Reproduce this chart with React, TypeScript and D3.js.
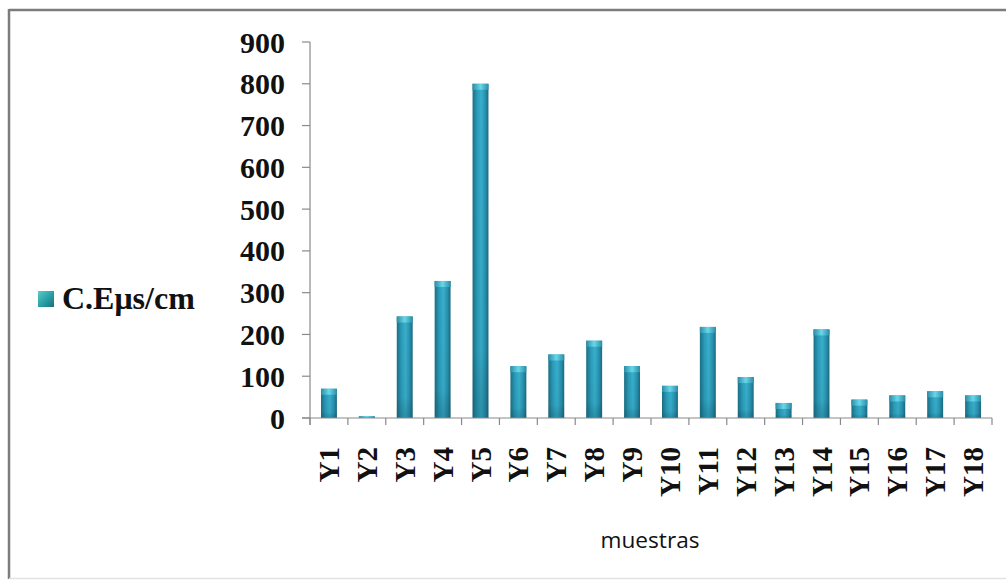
import React from "react";
import * as d3 from "d3";

const categories = ["Y1","Y2","Y3","Y4","Y5","Y6","Y7","Y8","Y9","Y10","Y11","Y12","Y13","Y14","Y15","Y16","Y17","Y18"];
const conductividad = [70, 4, 243, 328, 800, 124, 152, 185, 124, 77, 218, 98, 36, 212, 44, 54, 64, 54];
const yTicks = [0, 100, 200, 300, 400, 500, 600, 700, 800, 900];
const seriesName = "C.Eμs/cm";
const xTitle = "muestras";

const W = 1006;
const H = 582;
const plot = { left: 310, right: 992, top: 42, bottom: 418 };

export default function App() {
  const x = d3.scaleBand<string>().domain(categories).range([plot.left, plot.right]).paddingInner(0.58).paddingOuter(0.29);
  const band = d3.scaleBand<string>().domain(categories).range([plot.left, plot.right]);
  const y = d3.scaleLinear().domain([0, 900]).range([plot.bottom, plot.top]);
  const serif = "'Liberation Serif', 'Times New Roman', serif";
  const axisColor = "#8a8a8a";

  return (
    <svg width={W} height={H} style={{ position: "absolute", left: 0, top: 0, background: "#fff" }}>
      <defs>
        <linearGradient id="barBody" x1="0" x2="1" y1="0" y2="0">
          <stop offset="0%" stopColor="#1b6f86" />
          <stop offset="30%" stopColor="#2b9dbb" />
          <stop offset="55%" stopColor="#38afcc" />
          <stop offset="80%" stopColor="#2892b0" />
          <stop offset="100%" stopColor="#1a6a80" />
        </linearGradient>
        <linearGradient id="barCap" x1="0" x2="1" y1="0" y2="0">
          <stop offset="0%" stopColor="#2a8ea6" />
          <stop offset="50%" stopColor="#6ad6ea" />
          <stop offset="100%" stopColor="#2a8ea6" />
        </linearGradient>
        <linearGradient id="barShade" x1="0" x2="0" y1="0" y2="1">
          <stop offset="0%" stopColor="#000" stopOpacity="0" />
          <stop offset="80%" stopColor="#000" stopOpacity="0.04" />
          <stop offset="100%" stopColor="#0a3a48" stopOpacity="0.25" />
        </linearGradient>
        <linearGradient id="legendFill" x1="0" x2="1" y1="0" y2="1">
          <stop offset="0%" stopColor="#5fc9c9" />
          <stop offset="50%" stopColor="#2aa3a8" />
          <stop offset="100%" stopColor="#17707a" />
        </linearGradient>
      </defs>

      {/* frame */}
      <line x1={9} x2={W} y1={10} y2={10} stroke="#7c7c7c" strokeWidth={2.5} />
      <line x1={9} x2={9} y1={9} y2={579} stroke="#7c7c7c" strokeWidth={2.5} />
      <line x1={9} x2={W} y1={578.5} y2={578.5} stroke="#e2e2e2" strokeWidth={1.5} />

      {/* bars */}
      {categories.map((c, i) => {
        const v = conductividad[i];
        const bx = x(c)!;
        const bw = x.bandwidth();
        const top = y(v);
        const h = plot.bottom - top;
        const cap = Math.min(6, h);
        return (
          <g key={c}>
            <rect x={bx} y={top} width={bw} height={h} fill="url(#barBody)" />
            <rect x={bx} y={top} width={bw} height={h} fill="url(#barShade)" />
            <rect x={bx} y={top} width={bw} height={cap} fill="url(#barCap)" />
          </g>
        );
      })}

      {/* y axis */}
      <line x1={plot.left} x2={plot.left} y1={plot.top} y2={plot.bottom + 7} stroke={axisColor} strokeWidth={1.2} />
      {yTicks.map((t) => (
        <g key={t}>
          <line x1={plot.left - 8} x2={plot.left} y1={y(t)} y2={y(t)} stroke={axisColor} strokeWidth={1.2} />
          <text x={285} y={y(t)} dy="0.35em" textAnchor="end" fontFamily={serif} fontWeight="bold" fontSize={30} fill="#111">
            {t}
          </text>
        </g>
      ))}

      {/* x axis */}
      <line x1={plot.left - 8} x2={plot.right} y1={plot.bottom} y2={plot.bottom} stroke={axisColor} strokeWidth={1.2} />
      {categories.map((c) => (
        <line key={"t" + c} x1={band(c)!} x2={band(c)!} y1={plot.bottom} y2={plot.bottom + 7} stroke={axisColor} strokeWidth={1.2} />
      ))}
      <line x1={plot.right} x2={plot.right} y1={plot.bottom} y2={plot.bottom + 7} stroke={axisColor} strokeWidth={1.2} />
      {categories.map((c) => {
        const cx = band(c)! + band.bandwidth() / 2;
        return (
          <text
            key={"l" + c}
            transform={`translate(${cx + 10},447) rotate(-90)`}
            textAnchor="end"
            fontFamily={serif}
            fontWeight="bold"
            fontSize={29}
            fill="#111"
          >
            {c}
          </text>
        );
      })}

      <text x={650} y={548} textAnchor="middle" fontFamily="'Open Sans', 'Noto Sans', sans-serif" fontSize={22} fill="#111" textLength={99} lengthAdjust="spacingAndGlyphs">
        {xTitle}
      </text>

      {/* legend */}
      <rect x={38} y={291} width={16} height={16} fill="url(#legendFill)" />
      <text x={62} y={309} fontFamily={serif} fontWeight="bold" fontSize={32} fill="#111">
        {seriesName}
      </text>
    </svg>
  );
}
